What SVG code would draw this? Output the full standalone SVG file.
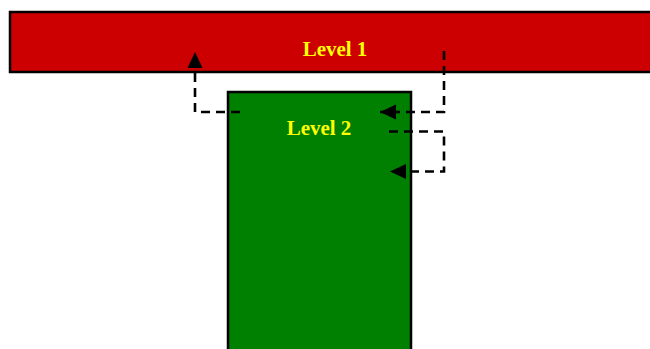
<svg xmlns="http://www.w3.org/2000/svg" width="650" height="349" viewBox="0 0 650 349">
<defs>
<style>
.box{stroke:#000;stroke-width:2.5}
.lbl{font-family:"Liberation Serif",serif;font-weight:bold;font-size:21px;fill:#FFFF00;text-anchor:middle}
.con{fill:none;stroke:#000;stroke-width:2.6;stroke-dasharray:9,6}
</style>
<marker id="ah" markerWidth="16" markerHeight="16" viewBox="0 0 16 16" refX="16" refY="8" orient="auto" markerUnits="userSpaceOnUse">
<path d="M0,0.5 L16,8 L0,15.5 Z" fill="#000"/>
</marker>
</defs>
<g id="level1">
<rect class="box" x="10" y="12" width="660" height="60" fill="#CC0000"/>
<text class="lbl" x="335" y="56">Level 1</text>
</g>
<g id="level2">
<rect class="box" x="228" y="92" width="183" height="270" fill="#008000"/>
<text class="lbl" x="319" y="135">Level 2</text>
</g>
<g id="connectors">
<path class="con" d="M240,112 H195 V52" marker-end="url(#ah)"/>
<path class="con" d="M444,51 V112 H380" marker-end="url(#ah)"/>
<path class="con" d="M389,131.5 H444 V171.5 H390" marker-end="url(#ah)"/>
</g>
</svg>
